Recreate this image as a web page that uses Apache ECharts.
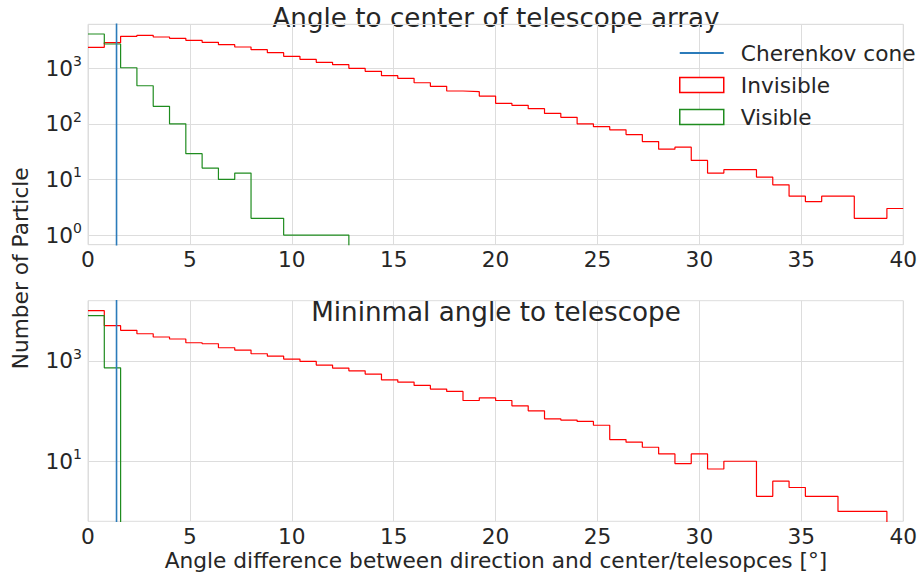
<!DOCTYPE html>
<html>
<head>
<meta charset="UTF-8">
<title>Angle to telescope histograms</title>
<style>
  html, body { margin: 0; padding: 0; background: #ffffff; }
  #chart { width: 920px; height: 573px; }
</style>
</head>
<body>
<div id="chart"></div>
<script src="https://cdn.jsdelivr.net/npm/echarts@6/dist/echarts.min.js"></script>
<script>
// histogram settings (degrees)
const binWidth = 0.8;
const cherenkovAngle = 1.4;
const xRange = [0, 40];
const xTickStep = 5;
const topYRange = [0.67, 6160];
const bottomYRange = [0.637, 15700];
const bottomGridValues = [10, 1000];
const bottomLabelExps = [1, 3];

const legendNames = ['Cherenkov cone', 'Invisible', 'Visible'];
const titles = ['Angle to center of telescope array', 'Mininmal angle to telescope'];
const xName = 'Angle difference between direction and center/telesopces [°]';
const yName = 'Number of Particle';

// counts per bin
const topInvisible = [2377, 2875, 3750, 3907, 3640, 3450, 3175, 2923, 2648, 2405,
  2152, 1900, 1637, 1445, 1277, 1156, 996, 880, 733, 658,
  548, 472, 389, 378, 316, 234, 215, 187, 154, 131,
  100, 89, 78, 64, 48, 35, 38, 22, 13, 15,
  15, 11, 8, 5, 4, 5, 5, 2, 2, 3];
const topVisible = [4120, 2725, 1020, 484, 206, 100, 29, 16, 10, 13, 2, 2, 1, 1, 1, 1];

const bottomInvisible = [9930, 4990, 4036, 3450, 2970, 2710, 2286, 2183, 1816, 1633,
  1380, 1242, 1082, 973, 820, 715, 632, 543, 418, 376,
  323, 273, 245, 162, 183, 162, 127, 101, 70, 66,
  62, 52, 27, 24, 19, 14, 9, 14, 7, 10,
  10, 2, 4, 3, 2, 2, 1, 1, 1];
const bottomVisible = [7890, 725];

const RED = '#ff0000';
const GREEN = '#1f8c1f';
const BLUE = '#2b7bba';
const TEXT = '#262626';
const GRID = '#dddddd';
const FONT = '"DejaVu Sans", sans-serif';
const LABEL_SIZE = 21.7;

// below every axis min, gets clipped: lets the outline drop to the bottom
const floorValue = 0.01;

// outline of a step histogram; the edges lying on the frame are left out
function stepPoints(counts) {
    const pts = [];
    counts.forEach((c, i) => pts.push([i * binWidth, c]));
    const end = counts.length * binWidth;
    pts.push([end, counts[counts.length - 1]]);
    if (end < xRange[1]) pts.push([end, floorValue]);
    return pts;
}

function histSeries(name, counts, color, idx) {
    return {
        name: name, type: 'line', xAxisIndex: idx, yAxisIndex: idx,
        data: stepPoints(counts), step: 'end',
        symbol: 'none', showSymbol: false, clip: true, silent: true,
        lineStyle: { color: color, width: 1.2 }, itemStyle: { color: color },
        z: 3
    };
}

function coneSeries(idx) {
    return {
        name: 'Cherenkov cone', type: 'line', xAxisIndex: idx, yAxisIndex: idx,
        data: [[cherenkovAngle, 1e-3], [cherenkovAngle, 1e7]],
        symbol: 'none', showSymbol: false, clip: true, silent: true,
        lineStyle: { color: BLUE, width: 1.6 }, itemStyle: { color: BLUE },
        z: 4
    };
}

function powLabel(onlyExps) {
    return function (v) {
        const e = Math.log10(v);
        const r = Math.round(e);
        if (Math.abs(e - r) > 1e-6) return '';
        if (onlyExps && onlyExps.indexOf(r) < 0) return '';
        return '{b|10}{s|' + r + '}';
    };
}

const tickRich = {
    b: { fontSize: LABEL_SIZE, fontFamily: FONT, color: TEXT, lineHeight: 28 },
    s: { fontSize: 14, fontFamily: FONT, color: TEXT, lineHeight: 14, verticalAlign: 'top' }
};

function xAxisFor(idx) {
    return {
        gridIndex: idx, type: 'value', min: xRange[0], max: xRange[1], interval: xTickStep,
        axisLine: { show: false }, axisTick: { show: false },
        axisLabel: { fontSize: LABEL_SIZE, fontFamily: FONT, color: TEXT, margin: 4 },
        splitLine: { show: true, lineStyle: { color: GRID, width: 1 } }
    };
}

const chart = echarts.init(document.getElementById('chart'), null, { renderer: 'svg' });

chart.setOption({
    animation: false,
    backgroundColor: '#ffffff',
    textStyle: { fontFamily: FONT, color: TEXT },
    grid: [
        { left: 88, right: 16, top: 24.3, height: 220.4, show: true, borderColor: GRID, borderWidth: 1 },
        { left: 88, right: 16, top: 300.7, height: 220.6, show: true, borderColor: GRID, borderWidth: 1 }
    ],
    xAxis: [xAxisFor(0), xAxisFor(1)],
    yAxis: [
        {
            gridIndex: 0, type: 'log', logBase: 10, min: topYRange[0], max: topYRange[1],
            axisLine: { show: false }, axisTick: { show: false },
            axisLabel: { formatter: powLabel(null), rich: tickRich, margin: 6 },
            splitLine: { show: true, lineStyle: { color: GRID, width: 1 } }
        },
        {
            gridIndex: 1, type: 'log', logBase: 10, min: bottomYRange[0], max: bottomYRange[1],
            axisLine: { show: false }, axisTick: { show: false },
            axisLabel: { formatter: powLabel(bottomLabelExps), rich: tickRich, margin: 6 },
            splitLine: { show: false }
        }
    ],
    legend: {
        orient: 'vertical', left: 679, top: 42, padding: 0,
        itemWidth: 44, itemHeight: 15, itemGap: 10, selectedMode: false,
        textStyle: { fontSize: LABEL_SIZE, fontFamily: FONT, color: TEXT, padding: [0, 0, 0, 12] },
        data: [
            { name: legendNames[0], icon: 'path://M0,0 L44,0 L44,2 L0,2 Z', itemStyle: { color: BLUE } },
            { name: legendNames[1], icon: 'rect', itemStyle: { color: '#ffffff', borderColor: RED, borderWidth: 1.5 } },
            { name: legendNames[2], icon: 'rect', itemStyle: { color: '#ffffff', borderColor: GREEN, borderWidth: 1.5 } }
        ]
    },
    graphic: [
        { type: 'text', x: 496, y: 18.3, style: { text: titles[0], font: '26.2px ' + FONT, fill: TEXT, align: 'center', verticalAlign: 'middle' } },
        { type: 'text', x: 496, y: 311.6, z: 10, style: { text: titles[1], font: '26.2px ' + FONT, fill: TEXT, align: 'center', verticalAlign: 'middle' } },
        { type: 'text', x: 496, y: 560.3, style: { text: xName, font: LABEL_SIZE + 'px ' + FONT, fill: TEXT, align: 'center', verticalAlign: 'middle' } },
        { type: 'text', x: 20.4, y: 268.3, rotation: Math.PI / 2, style: { text: yName, font: LABEL_SIZE + 'px ' + FONT, fill: TEXT, align: 'center', verticalAlign: 'middle' } }
    ],
    series: [
        // bottom panel horizontal grid lines at the labelled decades
        {
            name: 'grid', type: 'line', xAxisIndex: 1, yAxisIndex: 1, data: [], silent: true, z: 1,
            markLine: {
                silent: true, symbol: 'none', label: { show: false }, z: 1,
                lineStyle: { color: GRID, width: 1, type: 'solid' },
                emphasis: { disabled: true },
                data: bottomGridValues.map(v => ({ yAxis: v }))
            }
        },
        coneSeries(0),
        histSeries('Invisible', topInvisible, RED, 0),
        histSeries('Visible', topVisible, GREEN, 0),
        coneSeries(1),
        histSeries('Invisible', bottomInvisible, RED, 1),
        histSeries('Visible', bottomVisible, GREEN, 1)
    ]
});
</script>
</body>
</html>
